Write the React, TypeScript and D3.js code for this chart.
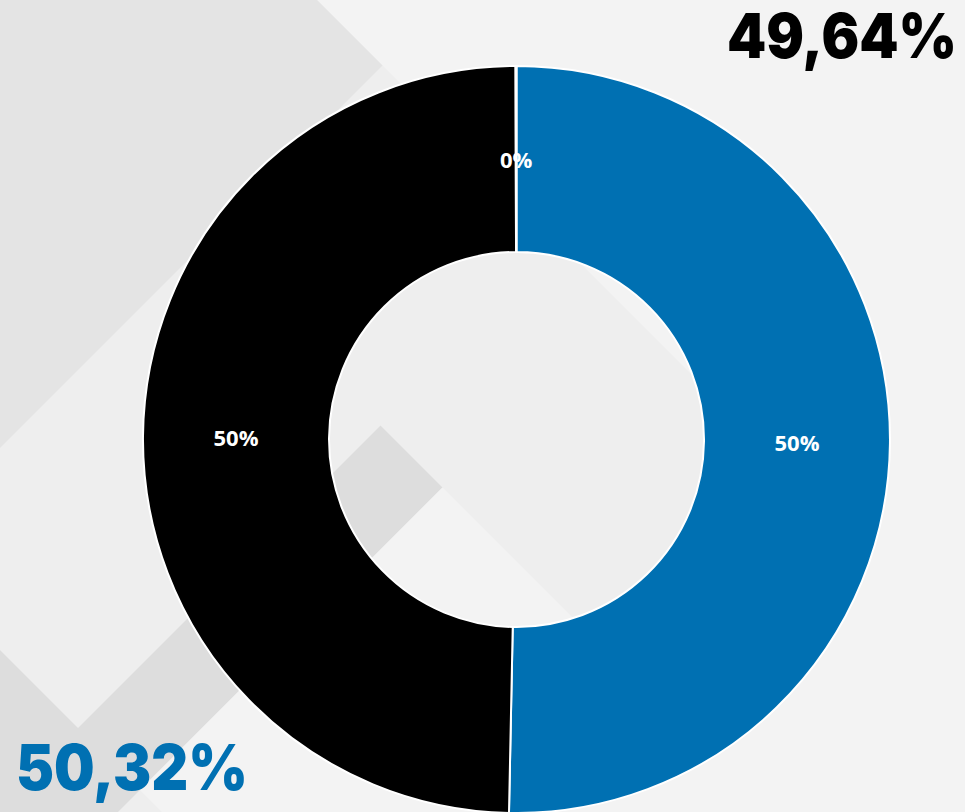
import React from "react";
import * as d3 from "d3";

// ---- data ----
const categories = ["Azul", "Negro", "Otro"];
const values = [50.32, 49.64, 0.04];
const colors = ["#0070B2", "#000000", "#A5A5A5"];

// ---- layout ----
const W = 965;
const H = 812;
const CX = 516.5;
const CY = 439.5;
const R_OUT = 373.5;
const R_IN = 187.5;

// background decoration lines: u = x + y, v = y - x
const U1 = 448, U2 = 806, U3 = 930, U4 = 1320;
const V1 = -317, V2 = 45, V3 = 650;
const pt = (u: number, v: number): [number, number] => [(u - v) / 2, (u + v) / 2];

const bgPolys: { pts: [number, number][]; fill: string }[] = [
  // light band below line v = V1, left of u = U4
  { pts: [[0, 0], [-V1, 0], pt(U4, V1), [U4 - H, H], [0, H]], fill: "#eeeeee" },
  // top-left darker diamond
  { pts: [[0, 0], [-V1, 0], pt(U1, V1), [0, U1]], fill: "#e4e4e4" },
  // darker band
  {
    pts: [pt(U2, V2), pt(U3, V2), [U3 - H, H], [0, H], [0, V3], pt(U2, V3)],
    fill: "#dddddd",
  },
  // light diamond bottom
  { pts: [pt(U3, V2), [H - V2, H], [H - V3, H], pt(U3, V3)], fill: "#f3f3f3" },
];

const fmtComma = (v: number) => v.toFixed(2).replace(".", ",") + "%";

export default function App() {
  const pie = d3
    .pie<number>()
    .sort(null)
    .value((d) => d)
    .startAngle(0)
    .endAngle(2 * Math.PI);
  const arcs = pie(values);
  const arc = d3.arc<d3.PieArcDatum<number>>().innerRadius(R_IN).outerRadius(R_OUT);
  const line = d3.line();

  return (
    <svg
      width={W}
      height={H}
      viewBox={`0 0 ${W} ${H}`}
      style={{ position: "absolute", left: 0, top: 0, display: "block" }}
    >
      <rect x={0} y={0} width={W} height={H} fill="#f3f3f3" />
      {bgPolys.map((p, i) => (
        <path key={i} d={line(p.pts) + "Z"} fill={p.fill} />
      ))}
      <g transform={`translate(${CX},${CY})`}>
        {arcs.map((a, i) => (
          <path
            key={categories[i]}
            d={arc(a) || ""}
            fill={colors[i]}
            stroke="#ffffff"
            strokeWidth={2}
            strokeLinejoin="round"
          />
        ))}
        {arcs.map((a, i) => {
          const [x, y] = arc.centroid(a);
          return (
            <text
              key={"l" + i}
              x={x}
              y={y}
              textAnchor="middle"
              dominantBaseline="central"
              fill="#ffffff"
              fontFamily="'Open Sans', 'Noto Sans', sans-serif"
              fontWeight={700}
              fontSize={22}
            >
              {Math.round(values[i]) + "%"}
            </text>
          );
        })}
      </g>
      <text
        x={957}
        y={58}
        textAnchor="end"
        fill="#000000"
        fontFamily="Inter, 'DejaVu Sans', sans-serif"
        fontWeight={900}
        fontSize={62}
        textLength={230}
        lengthAdjust="spacingAndGlyphs"
      >
        {fmtComma(values[1])}
      </text>
      <text
        x={16}
        y={790}
        textAnchor="start"
        fill="#0070B2"
        fontFamily="Inter, 'DejaVu Sans', sans-serif"
        fontWeight={900}
        fontSize={63}
        textLength={232}
        lengthAdjust="spacingAndGlyphs"
      >
        {fmtComma(values[0])}
      </text>
    </svg>
  );
}
